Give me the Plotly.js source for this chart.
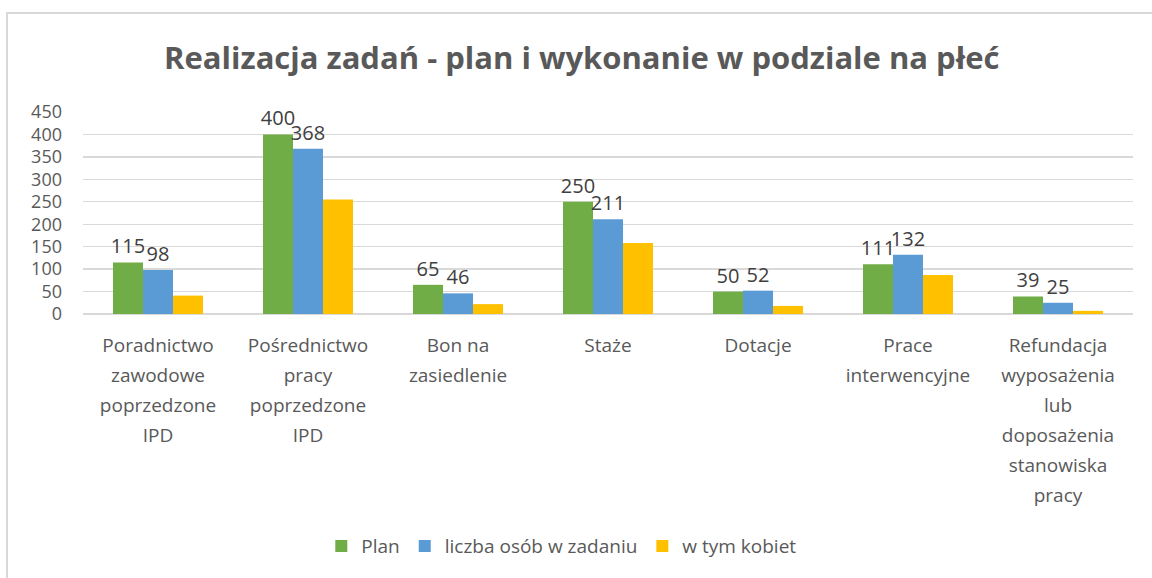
<!DOCTYPE html>
<html>
<head>
<meta charset="utf-8">
<script src="https://cdn.plot.ly/plotly-3.0.1.min.js"></script>
<style>
  html, body { margin: 0; padding: 0; overflow: hidden; background: #fff; }
  #chart { position: absolute; left: 0; top: 0; width: 1152px; height: 578px; }
  #frame { position: absolute; left: 6px; top: 12px; width: 1300px; height: 800px;
           border: 2px solid #d9d9d9; pointer-events: none; z-index: 10; }
</style>
</head>
<body>
<div id="chart"></div>
<div id="frame"></div>
<script>
const categories = [
  "Poradnictwo<br>zawodowe<br>poprzedzone<br>IPD",
  "Pośrednictwo<br>pracy<br>poprzedzone<br>IPD",
  "Bon na<br>zasiedlenie",
  "Staże",
  "Dotacje",
  "Prace<br>interwencyjne",
  "Refundacja<br>wyposażenia<br>lub<br>doposażenia<br>stanowiska<br>pracy"
];
const seriesNames = ["Plan", "liczba osób w zadaniu", "w tym kobiet"];
const planValues = [115, 400, 65, 250, 50, 111, 39];
const liczbaValues = [98, 368, 46, 211, 52, 132, 25];
const kobietValues = [41, 255, 22, 158, 18, 87, 7];
const yTicks = [0, 50, 100, 150, 200, 250, 300, 350, 400, 450];

const FONT = "Open Sans, Lato, sans-serif";
const colors = ["#70AD47", "#5B9BD5", "#FFC000"];

const traces = [
  { type: "bar", name: seriesNames[0], x: categories, y: planValues, marker: { color: colors[0] },
    text: planValues.map(String), textposition: "outside", cliponaxis: false, constraintext: "none",
    textfont: { family: FONT, size: 20, color: "#404040" } },
  { type: "bar", name: seriesNames[1], x: categories, y: liczbaValues, marker: { color: colors[1] },
    text: liczbaValues.map(String), textposition: "outside", cliponaxis: false, constraintext: "none",
    textfont: { family: FONT, size: 20, color: "#404040" } },
  { type: "bar", name: seriesNames[2], x: categories, y: kobietValues, marker: { color: colors[2] } }
];

const layout = {
  width: 1152, height: 578,
  margin: { l: 83, r: 19, t: 112, b: 264, pad: 0 },
  paper_bgcolor: "#ffffff", plot_bgcolor: "#ffffff",
  font: { family: FONT, color: "#595959" },
  title: { text: "<b>Realizacja zadań - plan i wykonanie w podziale na płeć</b>",
           font: { family: FONT, size: 31, color: "#595959" },
           x: 0.505, xanchor: "center", y: 0.9, yanchor: "middle", yref: "container" },
  barmode: "group", bargap: 0.4, bargroupgap: 0,
  xaxis: { type: "category", showgrid: false, showline: false, zeroline: false, ticks: "",
           tickfont: { family: FONT, size: 19, color: "#595959" }, ticklabelstandoff: 18, fixedrange: true },
  yaxis: { range: [0, 450], tickvals: yTicks, ticktext: yTicks.map(String),
           showgrid: true, gridcolor: "#d9d9d9", gridwidth: 1.3, zeroline: true, zerolinecolor: "#d9d9d9", zerolinewidth: 1.3,
           showline: false, ticks: "", ticklabelstandoff: 20,
           tickfont: { family: FONT, size: 18, color: "#595959" }, fixedrange: true },
  legend: { orientation: "h", x: 0.456, xanchor: "center", y: -1.149, yanchor: "middle",
            font: { family: FONT, size: 19, color: "#595959" }, itemwidth: 30, traceorder: "normal" },
  showlegend: true
};

Plotly.newPlot("chart", traces, layout, { displayModeBar: false, staticPlot: true }).then(function () {
  // widen line spacing of multi-line category labels to match the reference
  document.querySelectorAll(".xtick text tspan.line").forEach(function (t) {
    var dy = t.getAttribute("dy");
    if (dy && dy.indexOf("em") > 0) {
      var v = parseFloat(dy);
      t.setAttribute("dy", (v / 1.3 * 1.58) + "em");
    }
  });
});
</script>
</body>
</html>
